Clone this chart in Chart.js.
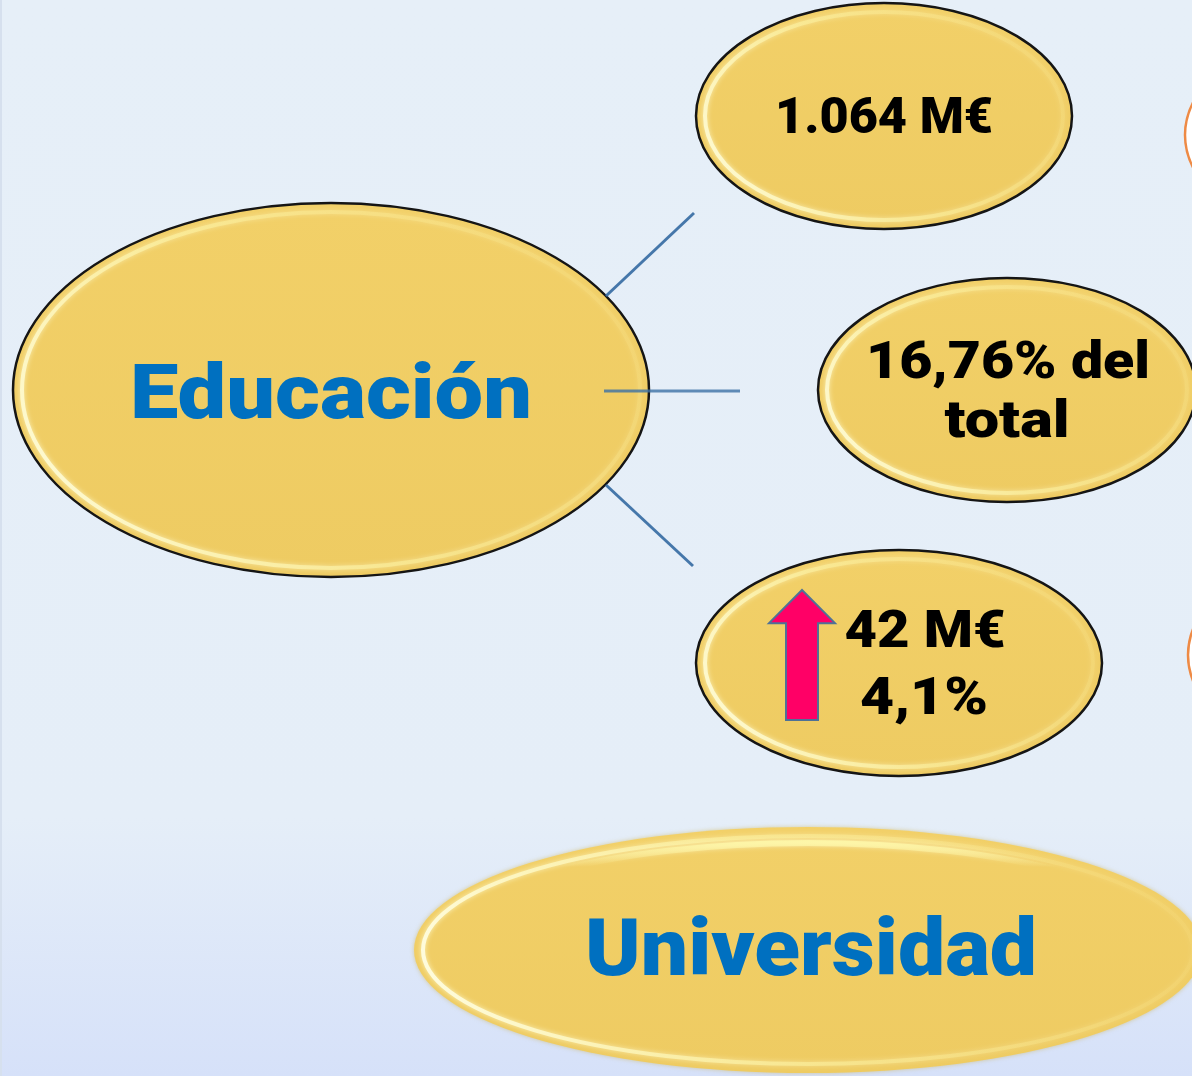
<!DOCTYPE html>
<html>
<head>
<meta charset="utf-8">
<script src="https://cdn.jsdelivr.net/npm/chart.js@4.4.1/dist/chart.umd.min.js"></script>
<style>
  html, body { margin: 0; padding: 0; }
  body { width: 1192px; height: 1076px; overflow: hidden; }
  #wrap {
    width: 1192px; height: 1076px;
    background: linear-gradient(180deg, #e6eff8 0%, #e5eef8 76%, #d6e1f9 100%);
    border-left: 2px solid #d6e0ee; box-sizing: border-box;
  }
  canvas { display: block; }
</style>
</head>
<body>
<div id="wrap"><canvas id="diagram" width="1190" height="1076"></canvas></div>
<script>
// nodes of the diagram (centre + radii in page units)
const nodeNames = ['Educación', '1.064 M€', '16,76% del total', '42 M€ 4,1%', 'Universidad'];
const nodeX = [331, 884, 1007, 899, 808];
const nodeY = [390, 116, 390, 663, 950];
const nodeRX = [318, 188, 189, 203, 394];
const nodeRY = [187, 113, 112, 113, 123];

// partly visible outlined nodes at the right edge
const sideX = [1375, 1378];
const sideY = [135, 655];

// connector segments from "Educación"
const linkFromX = [606, 604, 606];
const linkFromY = [296, 391, 485];
const linkToX = [694, 740, 693];
const linkToY = [213, 391, 566];

// text lines
const textLines = ['Educación', '1.064 M€', '16,76% del', 'total', '42 M€', '4,1%', 'Universidad'];
const textX = [331, 884, 1008, 1007, 925, 924, 811];
const textY = [418, 133, 378, 437, 647, 714, 975];
const textSize = [76, 50, 52, 52, 52, 52, 80];
const textWidth = [402, 218, 284, 125, 161, 128, 452];
const textBlue = [true, false, false, false, false, false, true];

// increase arrow
const arrowX = 802;
const arrowTop = 590;
const arrowBottom = 720;

function ellipsePath(ctx, cx, cy, rx, ry) {
  ctx.beginPath();
  ctx.ellipse(cx, cy, Math.abs(rx), Math.abs(ry), 0, 0, Math.PI * 2);
}

const diagramPlugin = {
  id: 'diagram',
  beforeDatasetsDraw(chart) {
    const ctx = chart.ctx;
    const sx = chart.scales.x, sy = chart.scales.y;
    const kx = Math.abs(sx.getPixelForValue(1) - sx.getPixelForValue(0));
    const ky = Math.abs(sy.getPixelForValue(0) - sy.getPixelForValue(1));

    // side outlined ellipses
    for (let i = 0; i < sideX.length; i++) {
      ctx.save();
      ellipsePath(ctx, sx.getPixelForValue(sideX[i]), sy.getPixelForValue(sideY[i]), 190 * kx, 113 * ky);
      ctx.fillStyle = '#ffffff';
      ctx.fill();
      ctx.lineWidth = 2.5;
      ctx.strokeStyle = '#ee8a45';
      ctx.stroke();
      ctx.restore();
    }

    for (let i = 0; i < nodeX.length; i++) {
      const cx = sx.getPixelForValue(nodeX[i]);
      const cy = sy.getPixelForValue(nodeY[i]);
      const rx = nodeRX[i] * kx, ry = nodeRY[i] * ky;
      const outlined = i < 4;
      ctx.save();
      ellipsePath(ctx, cx, cy, rx, ry);
      const g = ctx.createLinearGradient(0, cy - ry, 0, cy + ry);
      g.addColorStop(0, '#f2d068');
      g.addColorStop(1, '#eecb62');
      ctx.fillStyle = g;
      if (!outlined) {
        ctx.shadowColor = 'rgba(200,170,60,0.5)';
        ctx.shadowBlur = 4;
      }
      ctx.fill();
      ctx.shadowBlur = 0;

      // glossy inner rim
      ctx.save();
      ellipsePath(ctx, cx, cy, rx, ry);
      ctx.clip();
      const hg = ctx.createLinearGradient(cx - rx, cy + ry, cx + rx, cy - ry);
      hg.addColorStop(0, 'rgba(255,255,235,0.95)');
      hg.addColorStop(0.45, 'rgba(255,250,170,0.45)');
      hg.addColorStop(1, 'rgba(255,240,150,0.05)');
      ellipsePath(ctx, cx, cy, rx - 9, ry - 9);
      ctx.lineWidth = 4;
      ctx.strokeStyle = hg;
      ctx.shadowColor = 'rgba(255,255,220,0.9)';
      ctx.shadowBlur = 5;
      ctx.stroke();
      if (!outlined) {
        const tg = ctx.createLinearGradient(0, cy - ry, 0, cy - ry + 40);
        tg.addColorStop(0, 'rgba(255,250,170,0)');
        tg.addColorStop(0.35, 'rgba(255,250,170,0.8)');
        tg.addColorStop(1, 'rgba(255,250,170,0)');
        ellipsePath(ctx, cx, cy + 4, rx - 14, ry - 12);
        ctx.lineWidth = 6;
        ctx.strokeStyle = tg;
        ctx.stroke();
      }
      ctx.restore();

      if (outlined) {
        ellipsePath(ctx, cx, cy, rx, ry);
        ctx.lineWidth = 2.5;
        ctx.strokeStyle = '#151515';
        ctx.stroke();
      }
      ctx.restore();
    }
  },
  afterDatasetsDraw(chart) {
    const ctx = chart.ctx;
    const sx = chart.scales.x, sy = chart.scales.y;

    // arrow
    const ax = sx.getPixelForValue(arrowX);
    const at = sy.getPixelForValue(arrowTop);
    const ab = sy.getPixelForValue(arrowBottom);
    const headH = (ab - at) * 0.255;
    ctx.save();
    ctx.beginPath();
    ctx.moveTo(ax, at);
    ctx.lineTo(ax + 33, at + headH);
    ctx.lineTo(ax + 16, at + headH);
    ctx.lineTo(ax + 16, ab);
    ctx.lineTo(ax - 16, ab);
    ctx.lineTo(ax - 16, at + headH);
    ctx.lineTo(ax - 33, at + headH);
    ctx.closePath();
    ctx.fillStyle = '#ff0066';
    ctx.fill();
    ctx.lineWidth = 2;
    ctx.strokeStyle = '#4f7196';
    ctx.stroke();
    ctx.restore();

    // labels, fitted to the width they take in the slide
    for (let i = 0; i < textLines.length; i++) {
      ctx.save();
      ctx.textAlign = 'center';
      ctx.textBaseline = 'alphabetic';
      ctx.font = '900 ' + textSize[i] + 'px Roboto, Lato, sans-serif';
      ctx.fillStyle = textBlue[i] ? '#0070c0' : '#000000';
      const w = ctx.measureText(textLines[i]).width;
      ctx.translate(sx.getPixelForValue(textX[i]), sy.getPixelForValue(textY[i]));
      ctx.scale(textWidth[i] / w, 1);
      ctx.fillText(textLines[i], 0, 0);
      ctx.restore();
    }
  }
};

const linkSets = linkFromX.map((x0, i) => ({
  label: 'link ' + (i + 1),
  data: [{ x: x0, y: linkFromY[i] }, { x: linkToX[i], y: linkToY[i] }],
  showLine: true,
  borderColor: i === 1 ? 'rgba(60,112,165,0.8)' : 'rgba(60,112,165,0.95)',
  borderWidth: 3,
  pointRadius: 0
}));

new Chart(document.getElementById('diagram'), {
  type: 'scatter',
  data: { datasets: linkSets },
  options: {
    responsive: false,
    animation: false,
    layout: { padding: 0 },
    plugins: { legend: { display: false }, tooltip: { enabled: false } },
    scales: {
      x: { type: 'linear', display: false, min: 2, max: 1192 },
      y: { type: 'linear', display: false, min: 0, max: 1076, reverse: true }
    }
  },
  plugins: [diagramPlugin]
});
</script>
</body>
</html>
